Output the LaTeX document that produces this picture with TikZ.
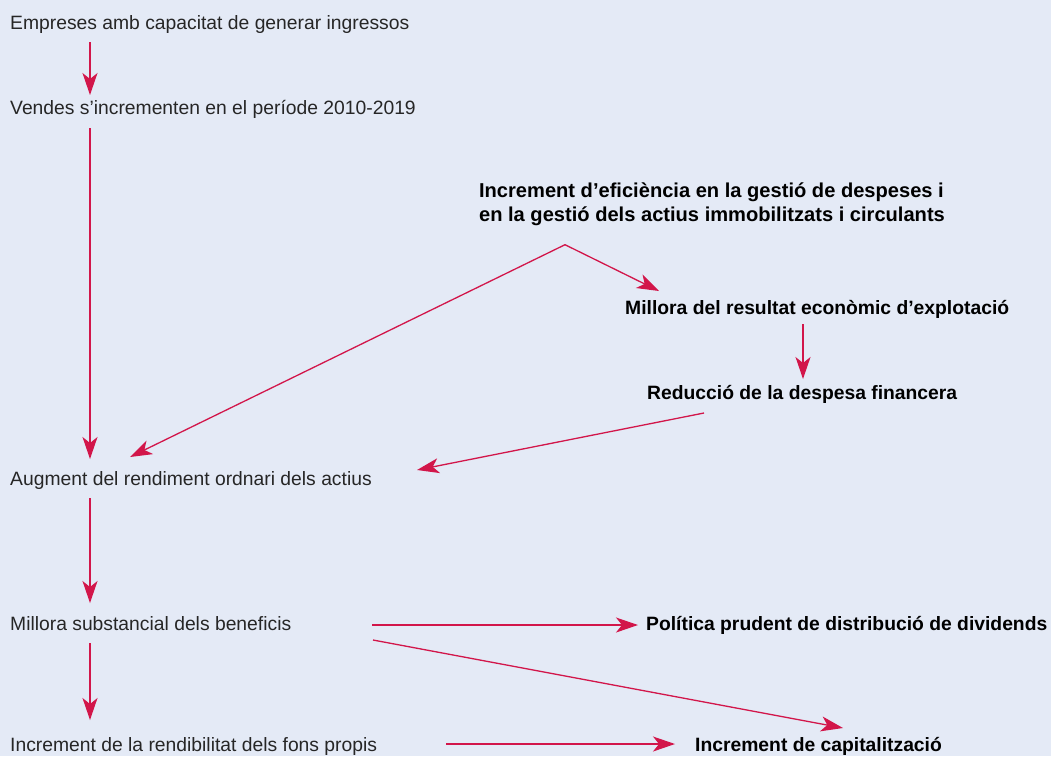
\documentclass[tikz,border=0pt]{standalone}
\usepackage{fontspec}
\setmainfont{Liberation Sans}
\usetikzlibrary{calc,arrows.meta}
\definecolor{bgblue}{HTML}{E4EAF6}
\definecolor{arrred}{HTML}{D2164A}
\definecolor{txtgray}{HTML}{262626}
\begin{document}
\begin{tikzpicture}[x=1pt,y=-1pt,
  lbl/.style={inner sep=0pt, anchor=base west, text=txtgray, font=\fontsize{19.3pt}{24pt}\selectfont},
  blbl/.style={inner sep=0pt, anchor=base west, text=black, font=\fontsize{19.3pt}{24pt}\selectfont\bfseries},
  arr/.style={draw=arrred, line width=1.3pt, -{Stealth[length=22pt,width=15pt,inset=6pt]}}]
\fill[bgblue] (0,0) rectangle (1051,756);
\useasboundingbox (0,0) rectangle (1051,756);

\node[lbl] (t1) at (10,29) {Empreses amb capacitat de generar ingressos};
\node[lbl] (t2) at (10,114) {Vendes s’incrementen en el període 2010-2019};
\node[blbl, anchor=center, align=left, font=\fontsize{20.1pt}{24pt}\selectfont\bfseries] (t3) at (712,204) {Increment d’eficiència en la gestió de despeses i\\en la gestió dels actius immobilitzats i circulants};
\node[blbl] (t4) at (625,314) {Millora del resultat econòmic d’explotació};
\node[blbl] (t5) at (647,399) {Reducció de la despesa financera};
\node[lbl] (t6) at (10,485) {Augment del rendiment ordnari dels actius};
\node[lbl] (t7) at (10,630) {Millora substancial dels beneficis};
\node[blbl] (t8) at (646,630) {Política prudent de distribució de dividends};
\node[lbl] (t9) at (10,751) {Increment de la rendibilitat dels fons propis};
\node[blbl] (t10) at (695,751) {Increment de capitalització};
\coordinate (br) at ($(t3.south)+(-147,19)$);

\draw[arr] ($(t1.base west)+(80,13)$) -- ($(t2.base west)+(80,-19)$);
\draw[arr] ($(t2.base west)+(80,14)$) -- ($(t6.base west)+(80,-26)$);
\draw[arr] (br) -- ($(t6.base west)+(120,-28)$);
\draw[arr] (br) -- ($(t4.base west)+(34,-23)$);
\draw[arr] ($(t4.base west)+(178,10)$) -- ($(t5.base west)+(156,-20)$);
\draw[arr] ($(t5.base west)+(57,14)$) -- ($(t6.base west)+(407,-15)$);
\draw[arr] ($(t6.base west)+(80,13)$) -- ($(t7.base west)+(80,-27)$);
\draw[arr] ($(t7.base west)+(362,-5)$) -- ($(t8.base west)+(-8,-5)$);
\draw[arr] ($(t7.base west)+(363,10)$) -- ($(t10.base west)+(148,-23)$);
\draw[arr] ($(t7.base west)+(80,13)$) -- ($(t9.base west)+(80,-31)$);
\draw[arr] ($(t9.base west)+(436,-7)$) -- ($(t10.base west)+(-20,-7)$);
\end{tikzpicture}
\end{document}
